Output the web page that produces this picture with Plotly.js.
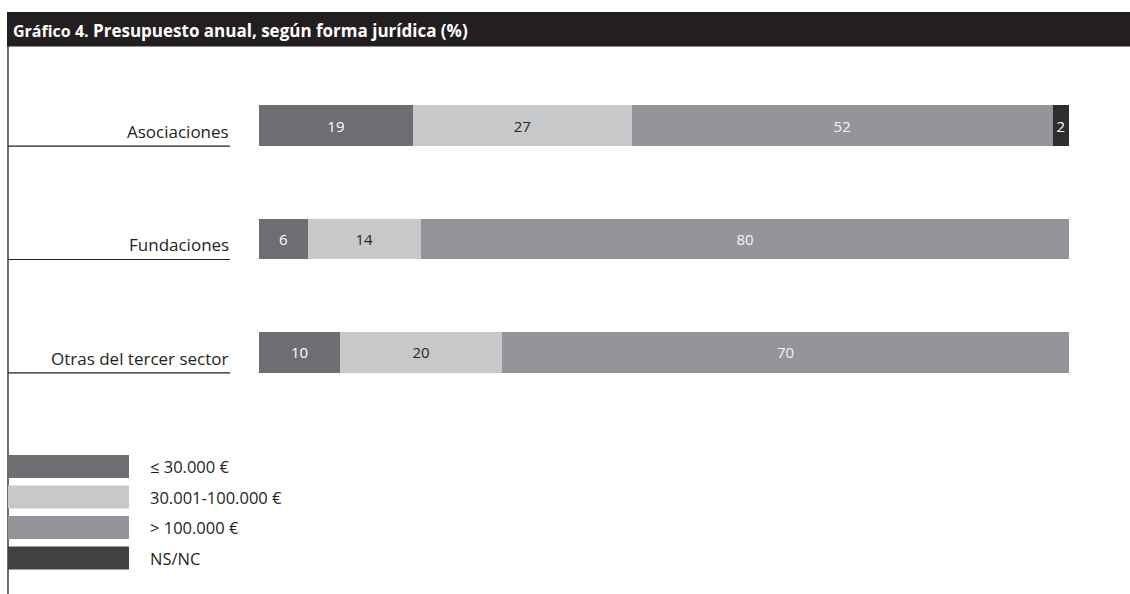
<!DOCTYPE html>
<html><head><meta charset="utf-8">
<script src="https://cdn.plot.ly/plotly-3.0.1.min.js"></script>
<style>html,body{margin:0;padding:0;background:#fff}#chart{width:1130px;height:594px}</style>
</head><body><div id="chart"></div>
<script>
const categories = ['Asociaciones', 'Fundaciones', 'Otras del tercer sector'];
const seriesNames = ['≤ 30.000 €', '30.001-100.000 €', '> 100.000 €', 'NS/NC'];
const upTo30k = [19, 6, 10];
const from30kTo100k = [27, 14, 20];
const over100k = [52, 80, 70];
const nsnc = [2, 0, 0];
const colors = ['#6d6e71', '#c7c8ca', '#939598', '#2f2d2e'];
const textColors = ['#ffffff', '#2a2627', '#f4f4f4', '#ffffff'];
const titleText = '<span style="font-size:16px">Gráfico 4.</span> Presupuesto anual, según forma jurídica (%)';

const W = 1130, H = 594;
const L = 259, R = 61, T = 69, B = 185;
const pw = W - L - R, ph = H - T - B;
const px2paperX = x => (x - L) / pw;
const px2paperY = y => (H - B - y) / ph;
const FONT = 'Open Sans';

const series = [upTo30k, from30kTo100k, over100k, nsnc];
const traces = series.map((vals, i) => ({
  type: 'bar', orientation: 'h', name: seriesNames[i],
  y: categories, x: vals,
  marker: {color: colors[i], line: {width: 0}},
  text: vals.map(v => v > 0 ? String(v) : ''),
  textposition: 'inside', insidetextanchor: 'middle',
  textfont: {family: FONT, size: 15, color: textColors[i]},
  width: 0.36, hoverinfo: 'skip', showlegend: false
}));

const catOrder = categories.slice().reverse();
const shapes = [];
const annotations = [];

// title bar and left rule
shapes.push({type: 'rect', xref: 'paper', yref: 'paper', layer: 'below',
  x0: px2paperX(7), x1: px2paperX(W), y0: px2paperY(46.5), y1: px2paperY(12),
  fillcolor: '#231f20', line: {width: 0}});
shapes.push({type: 'line', xref: 'paper', yref: 'paper',
  x0: px2paperX(8), x1: px2paperX(8), y0: px2paperY(46), y1: px2paperY(H),
  line: {color: '#231f20', width: 1.3}});

// category labels and underlines
categories.forEach(c => {
  const j = catOrder.indexOf(c);
  const cy = H - B - (j + 0.5) / catOrder.length * ph;
  const under = cy + 20.5;
  shapes.push({type: 'line', xref: 'paper', yref: 'paper',
    x0: px2paperX(8), x1: px2paperX(230), y0: px2paperY(under), y1: px2paperY(under),
    line: {color: '#231f20', width: 1.2}});
  annotations.push({text: c, xref: 'paper', yref: 'paper', x: px2paperX(231),
    y: px2paperY(cy + 6), xanchor: 'right', yanchor: 'middle', showarrow: false,
    font: {family: FONT, size: 17, color: '#231f20'}});
});

// legend
seriesNames.forEach((n, i) => {
  const top = 455 + i * 30.5;
  shapes.push({type: 'rect', xref: 'paper', yref: 'paper',
    x0: px2paperX(8), x1: px2paperX(129), y0: px2paperY(top + 23), y1: px2paperY(top),
    fillcolor: i === 3 ? '#414042' : colors[i], line: {width: 0}});
  annotations.push({text: n, xref: 'paper', yref: 'paper', x: px2paperX(148),
    y: px2paperY(top + 11.5), xanchor: 'left', yanchor: 'middle', showarrow: false,
    font: {family: FONT, size: 16.5, color: '#231f20'}});
});

const layout = {
  width: W, height: H,
  margin: {l: L, r: R, t: T, b: B, pad: 0},
  paper_bgcolor: '#ffffff', plot_bgcolor: '#ffffff',
  barmode: 'stack', showlegend: false,
  title: {text: titleText, xref: 'container', yref: 'container',
    x: 13 / W, xanchor: 'left', y: 1 - 31 / H, yanchor: 'middle',
    font: {family: FONT, size: 17, color: '#ffffff', weight: 'bold'}},
  xaxis: {range: [0, 100], visible: false, fixedrange: true},
  yaxis: {type: 'category', categoryorder: 'array', categoryarray: catOrder,
    range: [-0.5, 2.5], visible: false, fixedrange: true},
  shapes: shapes, annotations: annotations,
  uniformtext: {mode: false}
};

Plotly.newPlot('chart', traces, layout, {displayModeBar: false, staticPlot: true});
</script>
</body></html>
